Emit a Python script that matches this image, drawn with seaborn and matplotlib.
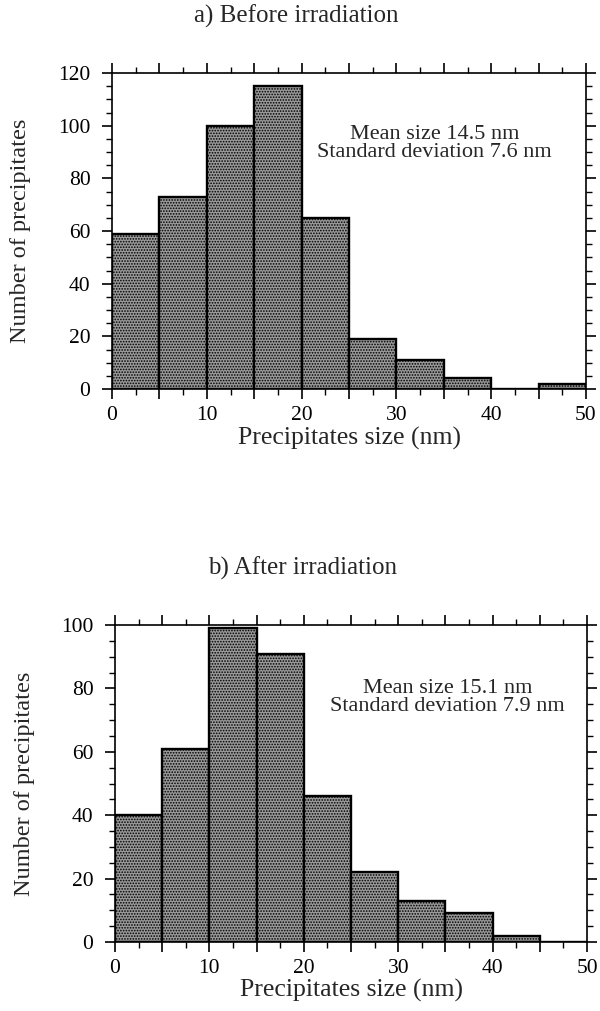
import numpy as np
import pandas as pd
import seaborn as sns
import matplotlib
matplotlib.use("Agg")
import matplotlib.pyplot as plt
from matplotlib.ticker import MultipleLocator, FuncFormatter

# ---- data ----
bin_edges = [0, 5, 10, 15, 20, 25, 30, 35, 40, 45, 50]
counts_before = [59, 73, 100, 115, 65, 19, 11, 4, 0, 2]
counts_after = [40, 61, 99, 91, 46, 22, 13, 9, 2, 0]
titles = ["a) Before irradiation", "b) After irradiation"]
notes = ["Mean size 14.5 nm\nStandard deviation 7.6 nm",
         "Mean size 15.1 nm\nStandard deviation 7.9 nm"]
ymax = [120, 100]
xlabel = "Precipitates size (nm)"
ylabel = "Number of precipitates"

sns.set_style("ticks")
plt.rcParams["font.family"] = ["Liberation Serif", "DejaVu Serif"]
plt.rcParams["hatch.linewidth"] = 0.8

fig = plt.figure(figsize=(6.0, 10.11), dpi=100)

ax_pos = [
    [112 / 600, 1 - 389 / 1011, (586 - 112) / 600, (389 - 73) / 1011],
    [115 / 600, 1 - 942 / 1011, (587 - 115) / 600, (942 - 625) / 1011],
]
title_pos = [(296 / 600, 1 - 16 / 1011), (303 / 600, 1 - 568 / 1011)]
note_pos = [(34.0, 93.2), (35.2, 77.0)]
xlabel_y = [-0.155, -0.152]

centers = [(bin_edges[i] + bin_edges[i + 1]) / 2 for i in range(len(bin_edges) - 1)]

for k, counts in enumerate([counts_before, counts_after]):
    ax = fig.add_axes(ax_pos[k])
    df = pd.DataFrame({"size": centers, "n": counts})
    sns.histplot(data=df, x="size", weights="n", bins=bin_edges, ax=ax,
                 stat="count", element="bars", fill=True,
                 color="#999999", edgecolor="black", linewidth=1.7,
                 hatch="......", alpha=1.0)
    ax.set_xlim(0, 50)
    ax.set_ylim(0, ymax[k])

    for sp in ax.spines.values():
        sp.set_visible(True)
        sp.set_linewidth(1.2)
        sp.set_color("black")

    ax.xaxis.set_major_locator(MultipleLocator(5))
    ax.xaxis.set_minor_locator(MultipleLocator(2.5))
    ax.xaxis.set_major_formatter(FuncFormatter(
        lambda v, p: f"{int(round(v))}" if abs(v % 10) < 1e-6 else ""))
    ax.yaxis.set_major_locator(MultipleLocator(20))
    ax.yaxis.set_minor_locator(MultipleLocator(5))

    ax.tick_params(axis="both", which="major", direction="out", length=7.5,
                   width=1.2, colors="black", labelsize=15.5,
                   top=True, right=True)
    ax.tick_params(axis="both", which="minor", direction="out", length=4,
                   width=1.0, colors="black", top=True, right=True)
    ax.tick_params(axis="x", which="major", pad=5)
    ax.tick_params(axis="y", which="major", pad=8)

    ax.set_xlabel(xlabel, fontsize=18.5, va="center")
    ax.xaxis.set_label_coords(0.5, xlabel_y[k])
    ax.set_ylabel(ylabel, fontsize=17.5, va="center")
    ax.yaxis.set_label_coords(-0.192, 0.5)

    ax.text(note_pos[k][0], note_pos[k][1], notes[k], fontsize=16,
            ha="center", va="center", linespacing=0.92)

    fig.text(title_pos[k][0], title_pos[k][1], titles[k], fontsize=18,
             ha="center", va="center")

fig.savefig("out.png", dpi=100, facecolor="white")
